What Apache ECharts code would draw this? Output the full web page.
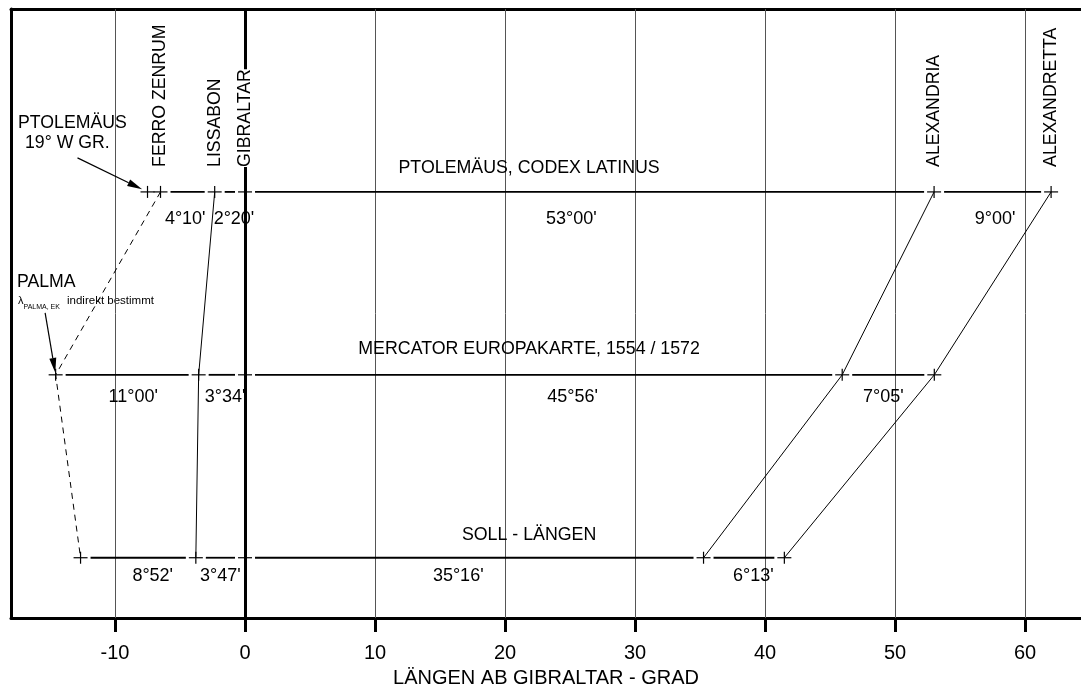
<!DOCTYPE html>
<html>
<head>
<meta charset="utf-8">
<script src="https://cdn.jsdelivr.net/npm/echarts@6/dist/echarts.min.js"></script>
<style>
html, body { margin: 0; padding: 0; background: #fff; }
#chart { width: 1081px; height: 693px; }
</style>
</head>
<body>
<div id="chart"></div>
<script>
// Längen ab Gibraltar in Grad (West negativ)
var places = ['FERRO ZENRUM', 'LISSABON', 'GIBRALTAR', 'ALEXANDRIA', 'ALEXANDRETTA'];
var rowNames = ['PTOLEMÄUS, CODEX LATINUS', 'MERCATOR EUROPAKARTE, 1554 / 1572', 'SOLL - LÄNGEN'];
var rowLevels = [3, 2, 1];
var ptolemaeus = [-6.5, -2.333, 0, 53, 62];
var mercator = [-14.567, -3.567, 0, 45.933, 53.017];
var soll = [-12.65, -3.783, 0, 35.267, 41.483];
var ptolemaeusZero = -7.5; // 19° W GR.
var ptolemaeusDiffs = ["4°10'", "2°20'", "53°00'", "9°00'"];
var mercatorDiffs = ["11°00'", "3°34'", "45°56'", "7°05'"];
var sollDiffs = ["8°52'", "3°47'", "35°16'", "6°13'"];
var xTicks = [-10, 0, 10, 20, 30, 40, 50, 60];

// label placement (degrees / px)
var diffLabelX = [[-4.6, -0.85, 25.1, 57.7], [-8.6, -1.54, 25.2, 49.1], [-7.1, -1.9, 16.4, 39.1]];
var diffLabelDy = [27, 22, 18];
var titleX = 21.85;
var titleDy = [-24, -26, -23];

var FONT = 'Liberation Sans';

var rows = [[ptolemaeusZero].concat(ptolemaeus), mercator, soll];
var diffs = [ptolemaeusDiffs, mercatorDiffs, sollDiffs];

var segments = [];
var crosses = [];
rows.forEach(function (pts, r) {
    pts.forEach(function (x, i) {
        crosses.push([x, rowLevels[r]]);
        if (i < pts.length - 1) {
            segments.push([x, pts[i + 1], rowLevels[r]]);
        }
    });
});

var diffData = [];
diffs.forEach(function (arr, r) {
    arr.forEach(function (txt, i) {
        diffData.push({
            value: [diffLabelX[r][i], rowLevels[r]],
            label: { formatter: txt, offset: [0, diffLabelDy[r]] }
        });
    });
});

var titleData = rowNames.map(function (name, r) {
    return { value: [titleX, rowLevels[r]], label: { formatter: name, offset: [0, titleDy[r]] } };
});

var placeData = ptolemaeus.map(function (x, i) {
    return { value: [x, 3], label: { formatter: places[i] } };
});

var connectorSeries = [];
places.forEach(function (p, i) {
    if (p === 'GIBRALTAR') return;
    connectorSeries.push({
        name: p,
        type: 'line',
        z: 2,
        symbol: 'none',
        silent: true,
        data: [[ptolemaeus[i], 3], [mercator[i], 2], [soll[i], 1]],
        lineStyle: { color: '#000', width: 1, type: i === 0 ? [6, 5] : 'solid' }
    });
});

// arrows: pixel offset of the tail from the target point, gap before the tip
var arrowTail = [[-70, -34], [-10.5, -62]];
var arrowGap = [6, 2];

var plainLabel = { textBorderWidth: 0, textBorderColor: 'transparent', color: '#000', fontFamily: FONT };

var chart = echarts.init(document.getElementById('chart'));
var option = {
    animation: false,
    backgroundColor: '#fff',
    textStyle: { fontFamily: FONT, color: '#000' },
    grid: { left: 11, right: 0, top: 9, bottom: 74 },
    xAxis: [{
        type: 'value',
        min: -18,
        max: 64.3,
        position: 'bottom',
        axisLine: { onZero: false, lineStyle: { color: '#000', width: 3 } },
        axisTick: { customValues: xTicks, length: 14, lineStyle: { color: '#000', width: 3 } },
        axisLabel: { customValues: xTicks, fontSize: 20, color: '#000', margin: 25, fontFamily: FONT },
        splitLine: { show: false },
        name: 'LÄNGEN AB GIBRALTAR - GRAD',
        nameLocation: 'middle',
        nameGap: 43,
        nameTextStyle: { fontSize: 20, color: '#000', fontFamily: FONT }
    }, {
        type: 'value',
        min: -18,
        max: 64.3,
        position: 'top',
        axisLine: { onZero: false, lineStyle: { color: '#000', width: 3 } },
        axisTick: { show: false },
        axisLabel: { show: false },
        splitLine: { show: false }
    }],
    yAxis: {
        type: 'value',
        min: 0.67,
        max: 4,
        axisLine: { show: true, onZero: false, lineStyle: { color: '#000', width: 3 } },
        axisTick: { show: false },
        axisLabel: { show: false },
        splitLine: { show: false }
    },
    graphic: [
        { type: 'text', x: 18, y: 123.5, style: { text: 'PTOLEMÄUS', font: '17.7px "Liberation Sans"', fill: '#000', verticalAlign: 'middle', textVerticalAlign: 'middle' } },
        { type: 'text', x: 25, y: 143.5, style: { text: '19° W GR.', font: '17.7px "Liberation Sans"', fill: '#000', verticalAlign: 'middle', textVerticalAlign: 'middle' } },
        { type: 'text', x: 17, y: 282, style: { text: 'PALMA', font: '17.7px "Liberation Sans"', fill: '#000', verticalAlign: 'middle', textVerticalAlign: 'middle' } },
        { type: 'text', x: 18, y: 301, style: { text: 'λ', font: '11px "Liberation Sans"', fill: '#000', verticalAlign: 'middle', textVerticalAlign: 'middle' } },
        { type: 'text', x: 23.5, y: 307.5, style: { text: 'PALMA, EK', font: '7px "Liberation Sans"', fill: '#000', verticalAlign: 'middle', textVerticalAlign: 'middle' } },
        { type: 'text', x: 67, y: 300.5, style: { text: 'indirekt bestimmt', font: '11.5px "Liberation Sans"', fill: '#000', verticalAlign: 'middle', textVerticalAlign: 'middle' } }
    ],
    series: [{
        name: 'grid',
        type: 'line',
        z: 1,
        data: [],
        silent: true,
        markLine: {
            z: 1,
            silent: true,
            symbol: ['none', 'none'],
            label: { show: false },
            lineStyle: { color: '#555', width: 1, type: 'solid' },
            data: xTicks.map(function (v) {
                return v === 0
                    ? { xAxis: v, lineStyle: { color: '#000', width: 3, type: 'solid' } }
                    : { xAxis: v };
            })
        }
    }, {
        name: 'rows',
        type: 'custom',
        z: 2,
        silent: true,
        data: segments,
        encode: { x: [0, 1], y: 2 },
        renderItem: function (params, api) {
            var a = api.coord([api.value(0), api.value(2)]);
            var b = api.coord([api.value(1), api.value(2)]);
            var gap = 10;
            if (b[0] - a[0] <= 2 * gap) return;
            return {
                type: 'line',
                shape: { x1: a[0] + gap, y1: a[1], x2: b[0] - gap, y2: b[1] },
                style: { stroke: '#000', lineWidth: 1.8 }
            };
        }
    }].concat(connectorSeries).concat([{
        name: 'crosses',
        type: 'custom',
        z: 3,
        silent: true,
        data: crosses,
        renderItem: function (params, api) {
            var p = api.coord([api.value(0), api.value(1)]);
            return {
                type: 'group',
                children: [
                    { type: 'line', shape: { x1: p[0] - 7, y1: p[1], x2: p[0] + 7, y2: p[1] }, style: { stroke: '#000', lineWidth: 1.2 } },
                    { type: 'line', shape: { x1: p[0], y1: p[1] - 6, x2: p[0], y2: p[1] + 6 }, style: { stroke: '#000', lineWidth: 1.2 } }
                ]
            };
        }
    }, {
        name: 'arrows',
        type: 'custom',
        z: 3,
        silent: true,
        data: [[ptolemaeusZero, 3], [mercator[0], 2]],
        renderItem: function (params, api) {
            var p = api.coord([api.value(0), api.value(1)]);
            var off = arrowTail[params.dataIndex];
            var s = [p[0] + off[0], p[1] + off[1]];
            var dx = p[0] - s[0], dy = p[1] - s[1];
            var len = Math.sqrt(dx * dx + dy * dy);
            var ux = dx / len, uy = dy / len;
            var g = arrowGap[params.dataIndex];
            var tip = [p[0] - ux * g, p[1] - uy * g];
            var hl = 15, hw = 3.5;
            var base = [tip[0] - ux * hl, tip[1] - uy * hl];
            return {
                type: 'group',
                children: [
                    { type: 'line', shape: { x1: s[0], y1: s[1], x2: base[0], y2: base[1] }, style: { stroke: '#000', lineWidth: 1.2 } },
                    { type: 'polygon', shape: { points: [tip, [base[0] - uy * hw, base[1] + ux * hw], [base[0] + uy * hw, base[1] - ux * hw]] }, style: { fill: '#000' } }
                ]
            };
        }
    }, {
        name: 'places',
        type: 'custom',
        z: 6,
        zlevel: 1,
        silent: true,
        data: placeData.map(function (d) { return d.value; }),
        renderItem: function (params, api) {
            var p = api.coord([api.value(0), api.value(1)]);
            var name = places[params.dataIndex];
            return {
                type: 'text',
                x: p[0],
                y: p[1] - 25,
                rotation: Math.PI / 2,
                style: {
                    text: name,
                    font: '17.7px "Liberation Sans"',
                    fill: '#000',
                    align: 'left',
                    verticalAlign: 'middle',
                    backgroundColor: name === 'GIBRALTAR' ? '#fff' : null,
                    padding: [1, 0, 0, 0]
                }
            };
        }
    }, {
        name: 'diffs',
        type: 'scatter',
        z: 6,
        silent: true,
        symbolSize: 0,
        itemStyle: { opacity: 1 },
        data: diffData,
        label: Object.assign({ show: true, position: 'inside', fontSize: 18 }, plainLabel)
    }, {
        name: 'titles',
        type: 'scatter',
        z: 6,
        silent: true,
        symbolSize: 0,
        itemStyle: { opacity: 1 },
        data: titleData,
        label: Object.assign({ show: true, position: 'inside', fontSize: 17.8 }, plainLabel)
    }])
};
chart.setOption(option);
</script>
</body>
</html>
